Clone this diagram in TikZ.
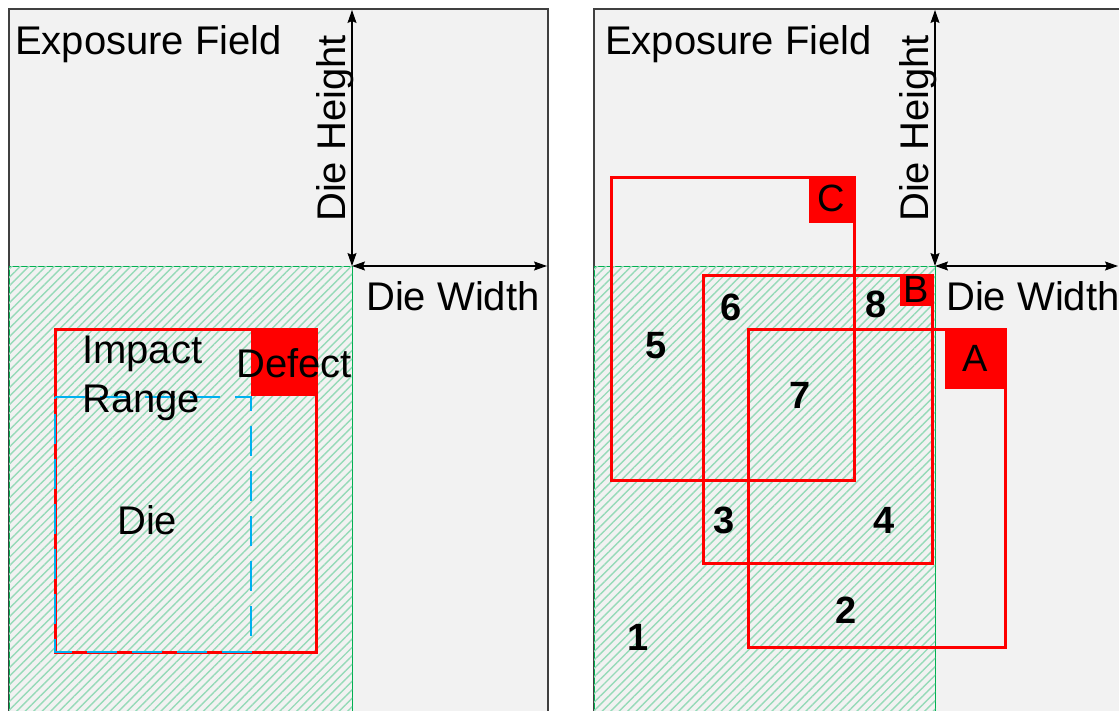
\documentclass[tikz,border=0pt]{standalone}
\usepackage{fontspec}
\setmainfont{Liberation Sans}
\usetikzlibrary{arrows.meta,patterns.meta}

\definecolor{fieldgrey}{RGB}{242,242,242}
\definecolor{framegrey}{RGB}{64,64,64}
\definecolor{diegreen}{RGB}{0,176,80}
\definecolor{hatchgreen}{RGB}{150,218,184}
\definecolor{rangeblue}{RGB}{0,176,240}
\definecolor{defectred}{RGB}{255,0,0}

\tikzset{
  field/.style={fill=fieldgrey, draw=framegrey, line width=1.2pt},
  diearea/.style={draw=diegreen, line width=1pt, fill=fieldgrey,
    postaction={pattern={Lines[angle=45,distance=6pt,line width=1.4pt]}, pattern color=hatchgreen}},
  impact/.style={draw=defectred, line width=3pt, line join=miter},
  defectbox/.style={fill=defectred, draw=none},
  dimarrow/.style={draw=black, line width=1.1pt, {Stealth[length=13pt,width=9pt,inset=2pt]}-{Stealth[length=13pt,width=9pt,inset=2pt]}},
  dierange/.style={draw=rangeblue, line width=2pt, dash pattern=on 30pt off 15pt},
  bigtext/.style={inner sep=0pt, font=\fontsize{40}{48}\selectfont},
  letter/.style={inner sep=0pt, font=\fontsize{38}{44}\selectfont, anchor=base},
  region/.style={inner sep=0pt, font=\fontsize{38}{44}\selectfont\bfseries, anchor=base}
}

\begin{document}
\begin{tikzpicture}[x=1pt, y=-1pt]
  \useasboundingbox (0,0) rectangle (1119,711);
  \clip (0,0) rectangle (1119,711);

  % ---------- left panel: a single defect and the die it can hit ----------
  \path[field] (9,9) rectangle (548,730);
  \path[diearea] (9,267) rectangle (352,730);

  \coordinate (lcorner) at (352,266);
  \coordinate (ltop) at (352,10);
  \coordinate (lright) at (547,266);
  \draw[dimarrow] (ltop) -- (lcorner);
  \draw[dimarrow] (lcorner) -- (lright);

  \node[bigtext, anchor=base west] (lfield) at (15,55) {Exposure Field};
  \node[bigtext, anchor=base west, rotate=90] (lheight) at (345,222) {Die Height};
  \node[bigtext, anchor=base west] (lwidth) at (366,311) {Die Width};

  \draw[impact] (55,329) rectangle (316,652);
  \draw[dierange] (55,397) -- (251,397) -- (251,652) -- (55,652) -- cycle;
  \fill[defectbox] (251,329) rectangle (317,396);

  \node[bigtext, anchor=base west] (impact) at (82,363) {Impact};
  \node[bigtext, anchor=base west] (range) at (82,412) {Range};
  \node[bigtext, anchor=base west] (defect) at (236,377) {Defect};
  \node[bigtext, anchor=base west] (die) at (117,534) {Die};

  % ---------- right panel: three defects splitting the die into regions ----------
  \path[field] (594,9) rectangle (1133,730);
  \path[diearea] (594,267) rectangle (935,730);

  \coordinate (rcorner) at (935,266);
  \coordinate (rtop) at (935,10);
  \coordinate (rright) at (1118,266);
  \draw[dimarrow] (rtop) -- (rcorner);
  \draw[dimarrow] (rcorner) -- (rright);

  \node[bigtext, anchor=base west] (rfield) at (605,55) {Exposure Field};
  \node[bigtext, anchor=base west, rotate=90] (rheight) at (928,222) {Die Height};
  \node[bigtext, anchor=base west] (rwidth) at (946,311) {Die Width};

  % impact range of defect C
  \draw[impact] (611,178) rectangle (854,480);
  \fill[defectbox] (809,178) rectangle (855,223);
  % impact range of defect B
  \draw[impact] (703,276) rectangle (932,563);
  \fill[defectbox] (900,275) rectangle (933,306);
  % impact range of defect A
  \draw[impact] (748,329) rectangle (1005,647);
  \fill[defectbox] (945,329) rectangle (1006,389);

  \node[letter] (labC) at (831,212) {C};
  \node[letter] (labB) at (916,302) {B};
  \node[letter] (labA) at (975,371) {A};

  \node[region] (r1) at (638,650) {1};
  \node[region] (r2) at (846,623) {2};
  \node[region] (r3) at (724,533) {3};
  \node[region] (r4) at (884,533) {4};
  \node[region] (r5) at (656,358) {5};
  \node[region] (r6) at (731,320) {6};
  \node[region] (r7) at (800,408) {7};
  \node[region] (r8) at (876,317) {8};
\end{tikzpicture}
\end{document}
